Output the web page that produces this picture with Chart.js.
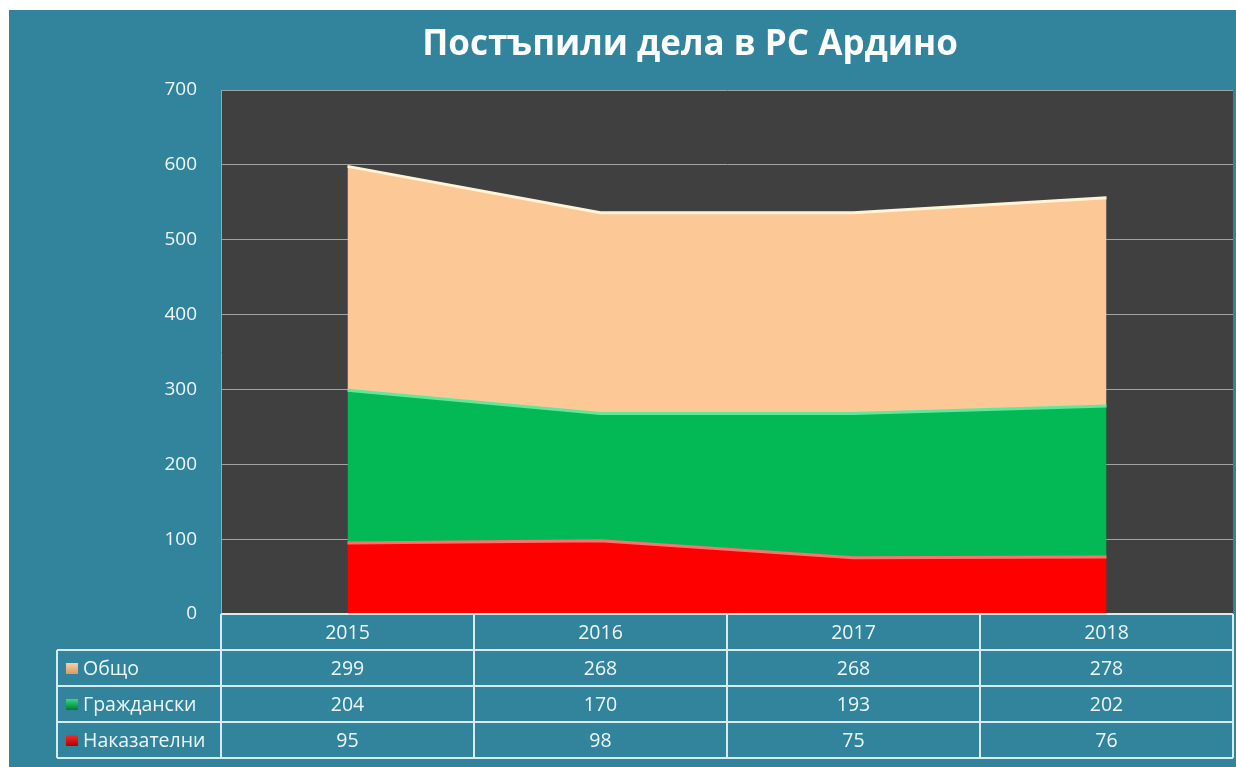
<!DOCTYPE html>
<html>
<head>
<meta charset="utf-8">
<script src="https://cdn.jsdelivr.net/npm/chart.js@4.4.0/dist/chart.umd.min.js"></script>
<style>
html, body { margin: 0; padding: 0; background: #fff; }
#wrap { width: 1236px; height: 767px; }
</style>
</head>
<body>
<div id="wrap"><canvas id="myChart" width="1236" height="767"></canvas></div>
<script>
// data
var years = ["2015", "2016", "2017", "2018"];
var obshto = [299, 268, 268, 278];
var grazhdanski = [204, 170, 193, 202];
var nakazatelni = [95, 98, 75, 76];
var yMax = 700;
var yStep = 100;

// rows of the data table, top to bottom
var tableRows = [
  { label: "Общо", data: obshto, color: "#fcd3a8", dark: "#d99a66" },
  { label: "Граждански", data: grazhdanski, color: "#3ee08a", dark: "#007a36" },
  { label: "Наказателни", data: nakazatelni, color: "#ff3030", dark: "#b00000" },
];

var teal = "#31849b";
var lineCol = "#d6ecf0";
var textCol = "#eef7f8";
var fontFam = "'Open Sans', 'Noto Sans', sans-serif";

var backdrop = {
  id: "backdrop",
  beforeDraw: function (chart) {
    var c = chart.ctx;
    var a = chart.chartArea;
    c.save();
    c.fillStyle = "#ffffff";
    c.fillRect(0, 0, chart.width, chart.height);
    c.fillStyle = teal;
    c.fillRect(9, 10, chart.width - 9, chart.height - 10);
    c.fillStyle = "#404040";
    c.fillRect(a.left, a.top, a.right - a.left, a.bottom - a.top);
    c.restore();
  },
};

var titleAndTable = {
  id: "titleAndTable",
  afterDraw: function (chart) {
    var c = chart.ctx;
    var a = chart.chartArea;
    var xs = chart.scales.x;
    c.save();

    // title
    c.fillStyle = "#ffffff";
    c.font = "bold 35px " + fontFam;
    c.textAlign = "center";
    c.textBaseline = "middle";
    c.fillText("Постъпили дела в РС Ардино", 690, 45);

    // table
    var half = (xs.getPixelForValue(1) - xs.getPixelForValue(0)) / 2;
    var left = xs.getPixelForValue(0) - half;
    var right = a.right;
    var top = a.bottom;
    var rowH = 36;
    var legLeft = 57;
    var bottom = top + rowH * (tableRows.length + 1);

    c.strokeStyle = lineCol;
    c.lineWidth = 2;
    c.beginPath();
    c.moveTo(left, top); c.lineTo(right, top);
    for (var r = 1; r <= tableRows.length + 1; r++) {
      c.moveTo(legLeft, top + rowH * r);
      c.lineTo(right, top + rowH * r);
    }
    c.moveTo(legLeft, top + rowH); c.lineTo(legLeft, bottom);
    for (var i = 0; i <= years.length; i++) {
      var x = i < years.length ? xs.getPixelForValue(i) - half : right;
      c.moveTo(x, top); c.lineTo(x, bottom);
    }
    c.stroke();

    c.fillStyle = textCol;
    c.font = "19.5px " + fontFam;
    c.textAlign = "center";
    c.textBaseline = "middle";
    for (var j = 0; j < years.length; j++) {
      var cx = xs.getPixelForValue(j);
      c.fillText(years[j], cx, top + rowH / 2 + 1);
      for (var k = 0; k < tableRows.length; k++) {
        c.fillText(String(tableRows[k].data[j]), cx, top + rowH * (k + 1.5) + 1);
      }
    }

    c.textAlign = "left";
    for (var m = 0; m < tableRows.length; m++) {
      var cy = top + rowH * (m + 1.5);
      var g = c.createLinearGradient(0, cy - 6, 0, cy + 6);
      g.addColorStop(0, tableRows[m].color);
      g.addColorStop(1, tableRows[m].dark);
      c.fillStyle = g;
      c.fillRect(66, cy - 5, 12, 11);
      c.fillStyle = textCol;
      c.fillText(tableRows[m].label, 83, cy + 1);
    }
    c.restore();
  },
};

var ctx = document.getElementById("myChart").getContext("2d");
var myChart = new Chart(ctx, {
  type: "line",
  data: {
    labels: years,
    datasets: [
      {
        label: "Наказателни",
        data: nakazatelni,
        backgroundColor: "#ff0000",
        borderColor: "#ff7070",
        borderWidth: 3,
        fill: "origin",
        pointRadius: 0,
      },
      {
        label: "Граждански",
        data: grazhdanski,
        backgroundColor: "#03b955",
        borderColor: "#5ee89a",
        borderWidth: 3,
        fill: "-1",
        pointRadius: 0,
      },
      {
        label: "Общо",
        data: obshto,
        backgroundColor: "#fcc896",
        borderColor: "#fff4d6",
        borderWidth: 3,
        fill: "-1",
        pointRadius: 0,
      },
    ],
  },
  options: {
    responsive: false,
    animation: false,
    layout: {
      padding: { top: 90, bottom: 153, right: 3, left: 0 },
    },
    plugins: {
      legend: { display: false },
      tooltip: { enabled: false },
      title: { display: false },
    },
    elements: { line: { tension: 0 } },
    scales: {
      x: {
        display: false,
        offset: true,
      },
      y: {
        stacked: true,
        min: 0,
        max: yMax,
        afterFit: function (scale) {
          scale.width = 221;
        },
        ticks: {
          stepSize: yStep,
          color: textCol,
          padding: 24,
          font: { size: 19, family: fontFam },
        },
        grid: {
          color: "#a3a3a3",
          lineWidth: 1,
          drawTicks: false,
        },
        border: { display: true, color: "#a3a3a3" },
      },
    },
  },
  plugins: [backdrop, titleAndTable],
});
</script>
</body>
</html>
